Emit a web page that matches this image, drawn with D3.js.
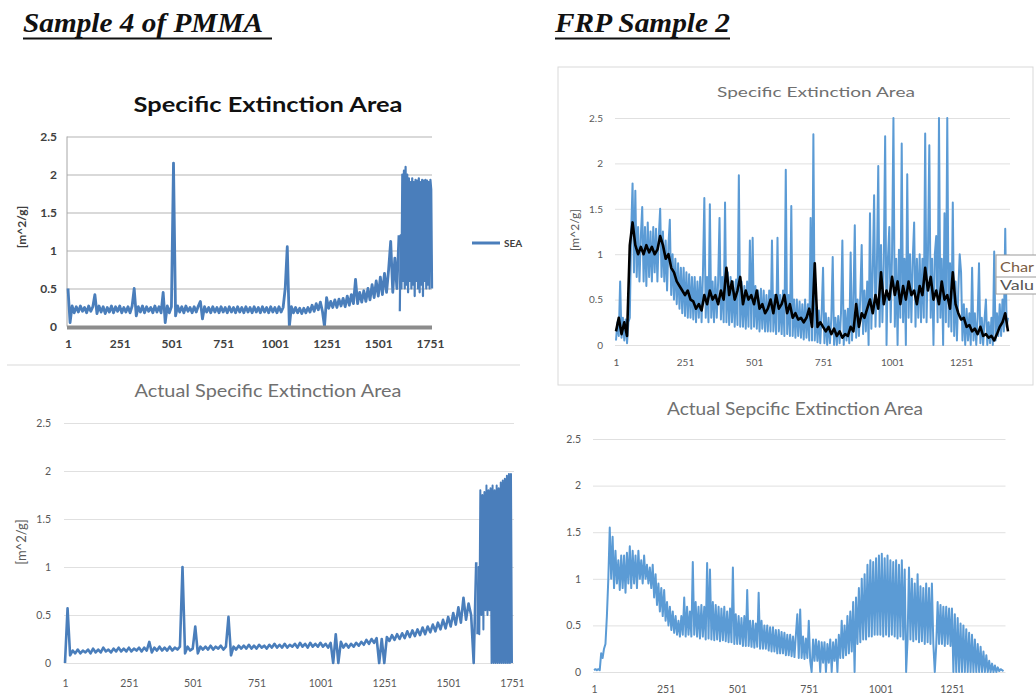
<!DOCTYPE html>
<html>
<head>
<meta charset="utf-8">
<script src="https://cdn.jsdelivr.net/npm/d3@7"></script>
<style>
  body { margin: 0; background: #fff; }
  svg { display: block; font-family: Lato, "Open Sans", sans-serif; }
</style>
</head>
<body>
<svg id="chart" width="1036" height="700"></svg>
<script>
const yTicks = [0, 0.5, 1, 1.5, 2, 2.5];
const pmmaTicks = [1, 251, 501, 751, 1001, 1251, 1501, 1751];
const frpTicks = [1, 251, 501, 751, 1001, 1251];

// Sample 4 of PMMA - SEA, readings 1..1601 every 10
const pmmaSea = [
  0.5, 0.05, 0.27, 0.18, 0.26, 0.19, 0.27, 0.2, 0.25, 0.18,
  0.27, 0.2, 0.26, 0.42, 0.17, 0.27, 0.19, 0.26, 0.17, 0.25,
  0.19, 0.27, 0.18, 0.26, 0.2, 0.27, 0.18, 0.25, 0.19, 0.26,
  0.18, 0.27, 0.5, 0.14, 0.26, 0.19, 0.27, 0.18, 0.26, 0.2,
  0.25, 0.18, 0.27, 0.19, 0.26, 0.18, 0.45, 0.05, 0.27, 0.18,
  0.26, 2.15, 0.14, 0.27, 0.19, 0.26, 0.18, 0.27, 0.2, 0.25,
  0.18, 0.26, 0.19, 0.27, 0.33, 0.1, 0.26, 0.19, 0.25, 0.18,
  0.26, 0.19, 0.25, 0.18, 0.26, 0.19, 0.25, 0.18, 0.26, 0.19,
  0.25, 0.18, 0.26, 0.19, 0.25, 0.18, 0.26, 0.19, 0.25, 0.18,
  0.26, 0.19, 0.25, 0.18, 0.26, 0.19, 0.25, 0.18, 0.26, 0.19,
  0.25, 0.18, 0.26, 0.19, 0.25, 0.5, 1.05, 0.0, 0.26, 0.18,
  0.25, 0.18, 0.24, 0.17, 0.24, 0.18, 0.25, 0.19, 0.28, 0.2,
  0.3, 0.22, 0.32, 0.2, 0.0, 0.38, 0.24, 0.33, 0.25, 0.35,
  0.25, 0.36, 0.27, 0.37, 0.26, 0.4, 0.28, 0.42, 0.3, 0.62,
  0.3, 0.45, 0.32, 0.47, 0.33, 0.5, 0.35, 0.55, 0.38, 0.6,
  0.4, 0.65, 0.42, 0.7, 0.45, 0.75, 1.12, 0.45, 0.9, 0.5,
  1.2
];
// dense end of the run, readings 1605..1761 every 4
const pmmaSeaTail = [
  0.2, 1.2, 0.5, 2.0, 0.6, 2.05, 0.5, 2.1, 0.55, 2.0,
  0.45, 1.95, 0.6, 1.9, 0.5, 1.95, 0.55, 1.9, 0.4, 1.93,
  0.6, 1.92, 0.5, 1.95, 0.45, 1.9, 0.55, 1.93, 0.4, 1.92,
  0.6, 1.93, 0.5, 1.92, 0.55, 1.9, 0.5, 1.93, 1.8, 0.5
];

// Sample 4 of PMMA - Actual SEA, readings 1..1611 every 10
const pmmaActual = [
  0.0, 0.57, 0.08, 0.13, 0.1, 0.14, 0.1, 0.13, 0.11, 0.14,
  0.1, 0.15, 0.11, 0.14, 0.11, 0.16, 0.12, 0.14, 0.11, 0.15,
  0.12, 0.16, 0.12, 0.15, 0.12, 0.16, 0.12, 0.15, 0.13, 0.16,
  0.12, 0.16, 0.13, 0.22, 0.11, 0.16, 0.13, 0.17, 0.13, 0.16,
  0.13, 0.17, 0.13, 0.16, 0.14, 0.17, 1.0, 0.1, 0.17, 0.13,
  0.15, 0.38, 0.1, 0.17, 0.14, 0.17, 0.14, 0.18, 0.14, 0.17,
  0.15, 0.18, 0.14, 0.17, 0.48, 0.08, 0.17, 0.14, 0.18, 0.15,
  0.18, 0.15, 0.19, 0.15, 0.18, 0.15, 0.19, 0.16, 0.18, 0.15,
  0.19, 0.16, 0.2, 0.16, 0.19, 0.16, 0.2, 0.16, 0.19, 0.17,
  0.2, 0.16, 0.21, 0.17, 0.2, 0.16, 0.21, 0.17, 0.2, 0.17,
  0.21, 0.17, 0.2, 0.16, 0.21, 0.0, 0.3, 0.0, 0.22, 0.16,
  0.2, 0.16, 0.2, 0.17, 0.21, 0.18, 0.22, 0.19, 0.24, 0.2,
  0.25, 0.21, 0.26, 0.0, 0.25, 0.0, 0.27, 0.23, 0.29, 0.24,
  0.3, 0.25, 0.31, 0.26, 0.33, 0.27, 0.34, 0.28, 0.35, 0.29,
  0.37, 0.3, 0.38, 0.32, 0.4, 0.33, 0.42, 0.35, 0.45, 0.36,
  0.48, 0.38, 0.52, 0.4, 0.58, 0.42, 0.68, 0.45, 0.62, 0.5,
  0.0, 1.05
];
// readings 1615..1751 every 4
const pmmaActualTail = [
  0.3, 1.0, 0.3, 1.8, 0.5, 1.75, 0.35, 1.78, 0.55, 1.85,
  0.5, 1.8, 0.55, 1.82, 0.0, 1.85, 0.0, 1.8, 0.0, 1.85,
  0.0, 1.82, 0.0, 1.88, 0.0, 1.9, 0.0, 1.92, 0.0, 1.95,
  0.0, 1.97, 0.0, 1.97, 0.0
];

// FRP Sample 2 - SEA, readings 1..1421 every 5
const frpSea = [
  0.05, 0.25, 0.1, 0.7, 0.08, 0.3, 0.05, 0.28, 0.02, 0.25, 0.3, 1.25, 1.78, 0.8, 1.7, 0.75, 1.3, 0.7, 1.2, 1.52,
  0.7, 1.3, 0.65, 1.35, 0.75, 1.25, 0.7, 1.3, 0.8, 1.28, 0.7, 1.2, 1.5, 0.75, 1.25, 0.7, 1.15, 0.6, 1.1, 1.38,
  0.55, 1.0, 0.5, 0.95, 0.45, 0.9, 0.4, 0.85, 0.35, 0.85, 0.32, 0.8, 0.3, 0.78, 0.3, 0.75, 0.28, 0.75, 0.25, 0.7,
  0.3, 0.75, 0.25, 0.8, 1.62, 0.3, 0.75, 0.25, 1.55, 0.3, 0.7, 0.25, 0.75, 0.3, 0.7, 1.4, 0.28, 0.75, 0.25, 1.57,
  0.25, 0.8, 0.22, 0.75, 0.25, 0.7, 0.2, 0.72, 0.22, 1.87, 0.2, 0.7, 0.2, 0.65, 0.18, 0.7, 0.2, 1.15, 0.18, 1.18,
  0.2, 0.65, 0.18, 0.6, 0.15, 0.62, 0.18, 0.6, 0.15, 0.55, 0.15, 0.6, 0.15, 1.15, 0.15, 0.55, 0.12, 1.18, 0.15, 0.55,
  0.12, 0.6, 0.1, 1.93, 0.12, 0.55, 0.1, 1.53, 0.1, 0.5, 0.08, 0.5, 0.1, 0.48, 0.08, 0.45, 0.06, 0.5, 0.08, 0.45,
  0.05, 1.4, 0.05, 2.32, 0.05, 0.4, 0.03, 0.38, 0.02, 0.35, 0.85, 0.02, 0.35, 0.0, 0.3, 0.02, 0.3, 0.97, 0.0, 0.3,
  0.0, 0.32, 0.02, 0.35, 1.15, 0.0, 0.38, 0.05, 0.4, 0.02, 1.02, 0.05, 0.45, 1.32, 0.08, 0.5, 0.1, 0.55, 1.1, 0.12,
  0.6, 0.15, 0.7, 0.0, 1.45, 0.18, 0.8, 1.65, 0.2, 0.85, 1.97, 0.2, 1.1, 0.25, 0.9, 2.3, 0.0, 0.95, 1.3, 0.25,
  1.0, 2.5, 0.2, 0.95, 0.0, 1.05, 0.3, 2.22, 0.25, 0.95, 0.0, 1.88, 0.3, 1.0, 0.25, 0.95, 1.35, 0.2, 0.95, 0.3,
  1.0, 0.25, 0.95, 0.3, 2.33, 0.25, 1.0, 2.2, 0.3, 0.95, 0.0, 1.0, 1.2, 0.25, 2.5, 0.3, 0.95, 0.0, 1.45, 0.25,
  2.5, 0.2, 0.9, 0.15, 1.57, 0.1, 0.7, 0.05, 0.6, 1.0, 0.8, 0.05, 0.45, 0.0, 0.4, 0.05, 0.35, 0.0, 0.85, 0.05,
  0.35, 0.0, 0.3, 0.9, 0.02, 0.3, 0.0, 0.28, 0.5, 0.0, 0.25, 0.02, 0.3, 0.0, 1.03, 0.05, 0.35, 0.1, 0.45, 0.1,
  0.5, 0.15, 1.28, 0.2, 0.3
];
// FRP Sample 2 - smoothed trace (black), readings 1..1421 every 10
const frpSmooth = [
  0.15, 0.3, 0.12, 0.25, 0.1, 1.1, 1.35, 1.1, 1.0, 1.08,
  1.0, 1.1, 1.02, 1.08, 1.0, 1.05, 1.2, 1.1, 0.95, 1.0,
  0.85, 0.8, 0.7, 0.65, 0.6, 0.55, 0.6, 0.5, 0.48, 0.4,
  0.45, 0.38, 0.55, 0.45, 0.6, 0.5, 0.55, 0.45, 0.6, 0.5,
  0.85, 0.55, 0.7, 0.5, 0.6, 0.75, 0.45, 0.6, 0.5, 0.55,
  0.45, 0.6, 0.4, 0.45, 0.35, 0.4, 0.5, 0.35, 0.55, 0.4,
  0.45, 0.55, 0.35, 0.45, 0.3, 0.35, 0.28, 0.3, 0.25, 0.3,
  0.4, 0.2, 0.9, 0.2, 0.25, 0.2, 0.15, 0.2, 0.12, 0.18,
  0.1, 0.15, 0.08, 0.12, 0.1, 0.2, 0.15, 0.45, 0.2, 0.35,
  0.3, 0.4, 0.5, 0.35, 0.55, 0.4, 0.8, 0.45, 0.6, 0.5,
  0.75, 0.55, 0.7, 0.45, 0.65, 0.5, 0.7, 0.55, 0.6, 0.45,
  0.65, 0.55, 0.85, 0.6, 0.75, 0.5, 0.6, 0.45, 0.7, 0.5,
  0.55, 0.4, 0.8, 0.45, 0.35, 0.28, 0.3, 0.2, 0.22, 0.15,
  0.18, 0.12, 0.2, 0.1, 0.12, 0.08, 0.1, 0.05, 0.12, 0.2,
  0.25, 0.35, 0.15
];

// FRP Sample 2 - Actual SEA, readings 1..1431 every 5
const frpActual = [
  0.02, 0.03, 0.02, 0.03, 0.02, 0.2, 0.15, 0.25, 0.3, 0.6, 1.0, 1.55, 1.0, 1.45, 0.9, 1.3, 0.95, 1.2, 0.88, 1.25,
  0.9, 1.25, 0.85, 1.28, 0.95, 1.35, 0.9, 1.3, 0.95, 1.25, 0.9, 1.3, 1.0, 1.2, 0.95, 1.25, 1.0, 1.15, 0.95, 1.12,
  0.9, 1.15, 0.8, 1.05, 0.72, 0.95, 0.65, 0.9, 0.6, 0.88, 0.55, 0.75, 0.5, 0.7, 0.45, 0.65, 0.42, 0.6, 0.4, 0.55,
  0.38, 0.6, 0.4, 0.8, 0.38, 0.7, 0.4, 0.65, 0.38, 1.18, 0.4, 0.75, 0.38, 0.7, 0.36, 0.72, 0.38, 0.7, 0.35, 1.17,
  0.36, 1.1, 0.35, 0.75, 0.34, 0.72, 0.35, 0.7, 0.33, 0.68, 0.34, 0.7, 0.33, 0.65, 0.32, 0.68, 0.32, 1.12, 0.3, 0.62,
  0.3, 0.6, 0.3, 0.58, 0.28, 0.6, 0.28, 0.88, 0.28, 0.55, 0.27, 0.55, 0.26, 0.52, 0.27, 0.85, 0.25, 0.55, 0.25, 0.5,
  0.25, 0.5, 0.23, 0.48, 0.22, 0.48, 0.22, 0.45, 0.2, 0.45, 0.2, 0.43, 0.2, 0.42, 0.18, 0.4, 0.18, 0.4, 0.17, 0.38,
  0.16, 0.4, 0.62, 0.15, 0.67, 0.15, 0.38, 0.14, 0.36, 0.15, 0.55, 0.12, 0.0, 0.35, 0.12, 0.35, 0.12, 0.33, 0.0, 0.32,
  0.1, 0.32, 0.0, 0.3, 0.1, 0.35, 0.0, 0.32, 0.12, 0.35, 0.0, 0.4, 0.15, 0.55, 0.15, 0.5, 0.18, 0.6, 0.2, 0.65,
  0.22, 0.75, 0.0, 0.8, 0.3, 0.9, 0.32, 1.0, 0.35, 1.05, 0.35, 1.15, 0.38, 1.2, 0.38, 1.18, 0.4, 1.22, 0.4, 1.25,
  0.4, 1.27, 0.38, 1.22, 0.4, 1.25, 0.38, 1.2, 0.4, 1.18, 0.38, 1.2, 0.36, 1.15, 0.38, 1.2, 0.35, 1.1, 0.0, 0.35,
  1.12, 0.35, 1.0, 0.33, 0.95, 0.35, 1.05, 0.32, 0.92, 0.33, 0.9, 0.3, 0.95, 0.32, 0.9, 0.3, 0.95, 0.3, 0.0, 0.28,
  0.75, 0.3, 0.72, 0.3, 0.7, 0.28, 0.7, 0.3, 0.68, 0.28, 0.68, 0.0, 0.62, 0.0, 0.58, 0.0, 0.52, 0.0, 0.5, 0.0,
  0.46, 0.0, 0.42, 0.0, 0.4, 0.0, 0.35, 0.0, 0.3, 0.0, 0.27, 0.0, 0.22, 0.0, 0.18, 0.0, 0.12, 0.0, 0.09, 0.0,
  0.07, 0.0, 0.05, 0.01, 0.03, 0.02, 0.01
];

const svg = d3.select("#chart");

// page headers
function header(text, x, y, textW, underlineTo) {
  svg.append("text")
    .attr("x", x).attr("y", y)
    .attr("textLength", textW).attr("lengthAdjust", "spacingAndGlyphs")
    .style("font-family", "'Liberation Serif', serif")
    .style("font-style", "italic")
    .style("font-weight", "bold")
    .style("font-size", "28px")
    .attr("fill", "#111")
    .text(text);
  svg.append("line")
    .attr("x1", x).attr("x2", underlineTo)
    .attr("y1", y + 6.5).attr("y2", y + 6.5)
    .attr("stroke", "#111").attr("stroke-width", 2);
}
header("Sample 4 of PMMA", 23, 32, 240, 272);
header("FRP Sample 2", 555, 32, 175, 730);

// chart frames
svg.append("rect")
  .attr("x", 558).attr("y", 67).attr("width", 475).attr("height", 318)
  .attr("fill", "none").attr("stroke", "#d9d9d9");
svg.append("line")
  .attr("x1", 7).attr("x2", 520).attr("y1", 365).attr("y2", 365)
  .attr("stroke", "#d9d9d9");

function panel(o) {
  const g = svg.append("g");
  const x = d3.scaleLinear().domain(o.xDomain).range(o.xRange);
  const y = d3.scaleLinear().domain([0, 2.5]).range(o.yRange);
  const w = o.xRange[1] - o.xRange[0];
  const weight = o.bold ? "bold" : "normal";

  // gridlines + y labels
  const ya = g.append("g")
    .attr("transform", `translate(${o.xRange[0] - 1},0)`)
    .call(d3.axisLeft(y).tickValues(yTicks).tickSize(-(w + 3)).tickPadding(o.yPad).tickFormat(d => String(d)));
  ya.select(".domain").remove();
  ya.selectAll(".tick line").attr("stroke", o.gridColor);
  ya.selectAll(".tick text")
    .attr("fill", o.tickColor)
    .style("font-size", o.tickSize + "px")
    .style("font-weight", weight)
    .style("font-family", "Lato, sans-serif");

  if (o.bold) {
    // older Excel style: vertical axis line
    g.append("line")
      .attr("x1", o.xRange[0] - 1).attr("x2", o.xRange[0] - 1)
      .attr("y1", y(2.5)).attr("y2", y(0))
      .attr("stroke", "#a6a6a6");
  }

  // x axis labels
  const xa = g.append("g")
    .attr("transform", `translate(0,${y(0)})`)
    .call(d3.axisBottom(x).tickValues(o.xTicks).tickSize(0).tickPadding(o.xPad).tickFormat(d => String(d)));
  xa.select(".domain").remove();
  xa.selectAll(".tick text")
    .attr("fill", o.tickColor)
    .style("font-size", o.tickSize + "px")
    .style("font-weight", weight)
    .style("font-family", "Lato, sans-serif");

  // series
  o.series.forEach(s => {
    const line = d3.line()
      .x((d, i) => x(s.start + i * s.step))
      .y(d => y(Math.min(d, 2.5)));
    g.append("path")
      .datum(s.values)
      .attr("d", line)
      .attr("fill", "none")
      .attr("stroke", s.color)
      .attr("stroke-width", s.width)
      .attr("stroke-linejoin", "round");
  });

  if (o.bold) {
    g.append("line")
      .attr("x1", o.xRange[0] - 1).attr("x2", o.xRange[1] + 2)
      .attr("y1", y(0) + 1).attr("y2", y(0) + 1)
      .attr("stroke", "#8c8c8c").attr("stroke-width", 4);
  }

  // title
  g.append("text")
    .attr("x", o.titleX).attr("y", o.titleY)
    .attr("text-anchor", "middle")
    .attr("textLength", o.titleW).attr("lengthAdjust", "spacingAndGlyphs")
    .attr("fill", o.titleColor)
    .style("font-size", o.titleSize + "px")
    .style("font-weight", weight)
    .text(o.title);

  // y axis title
  if (o.yTitle) {
    g.append("text")
      .attr("transform", `translate(${o.yTitleX},${o.yTitleY}) rotate(-90)`)
      .attr("text-anchor", "middle")
      .attr("fill", o.tickColor)
      .style("font-size", o.yTitleSize + "px")
      .style("font-weight", weight)
      .text(o.yTitle);
  }
}

// top-left
panel({
  xDomain: [1, 1751], xRange: [68, 430], yRange: [326.5, 136.5],
  xTicks: pmmaTicks, gridColor: "#b3b3b3", tickColor: "#404040", tickSize: 12,
  yPad: 10, xPad: 13, bold: true,
  title: "Specific Extinction Area", titleX: 268, titleY: 112, titleW: 269, titleSize: 20, titleColor: "#111",
  yTitle: "[m^2/g]", yTitleX: 26, yTitleY: 227, yTitleSize: 12,
  series: [
    {values: pmmaSea, start: 1, step: 10, color: "#4a7ebb", width: 2.8},
    {values: pmmaSeaTail, start: 1605, step: 4, color: "#4a7ebb", width: 2.2}
  ]
});

// legend for top-left
svg.append("line")
  .attr("x1", 472).attr("x2", 500).attr("y1", 243).attr("y2", 243)
  .attr("stroke", "#4a7ebb").attr("stroke-width", 3);
svg.append("text")
  .attr("x", 504).attr("y", 247)
  .attr("fill", "#404040")
  .style("font-size", "10px").style("font-weight", "bold")
  .text("SEA");

// top-right
panel({
  xDomain: [1, 1421], xRange: [616, 1008], yRange: [345, 118],
  xTicks: frpTicks, gridColor: "#e0e0e0", tickColor: "#595959", tickSize: 10,
  yPad: 12, xPad: 14, bold: false,
  title: "Specific Extinction Area", titleX: 816, titleY: 97, titleW: 198, titleSize: 14, titleColor: "#707070",
  yTitle: "[m^2/g]", yTitleX: 579, yTitleY: 230, yTitleSize: 12,
  series: [
    {values: frpSea, start: 1, step: 5, color: "#5b9bd5", width: 2},
    {values: frpSmooth, start: 1, step: 10, color: "#000", width: 2.6}
  ]
});

// Excel hover box at the right edge
svg.append("rect")
  .attr("x", 996).attr("y", 255).attr("width", 50).attr("height", 39)
  .attr("fill", "#fff").attr("stroke", "#9a9a9a");
svg.append("line")
  .attr("x1", 996).attr("x2", 1036).attr("y1", 277).attr("y2", 277)
  .attr("stroke", "#9a9a9a");
svg.append("text").attr("x", 1000).attr("y", 272)
  .attr("textLength", 34).attr("lengthAdjust", "spacingAndGlyphs")
  .attr("fill", "#7a5c45").style("font-size", "14px").text("Char");
svg.append("text").attr("x", 1000).attr("y", 290)
  .attr("textLength", 34).attr("lengthAdjust", "spacingAndGlyphs")
  .attr("fill", "#555").style("font-size", "14px").text("Valu");

// bottom-left
panel({
  xDomain: [1, 1751], xRange: [65, 512], yRange: [663, 423],
  xTicks: pmmaTicks, gridColor: "#e0e0e0", tickColor: "#595959", tickSize: 10.5,
  yPad: 13, xPad: 17, bold: false,
  title: "Actual Specific Extinction Area", titleX: 268, titleY: 397, titleW: 267, titleSize: 16.5, titleColor: "#707070",
  yTitle: "[m^2/g]", yTitleX: 26, yTitleY: 542, yTitleSize: 13,
  series: [
    {values: pmmaActual, start: 1, step: 10, color: "#4a7ebb", width: 2.6},
    {values: pmmaActualTail, start: 1615, step: 4, color: "#4a7ebb", width: 2}
  ]
});

// bottom-right
panel({
  xDomain: [1, 1431], xRange: [594, 1003.5], yRange: [672, 439],
  xTicks: frpTicks, gridColor: "#e0e0e0", tickColor: "#595959", tickSize: 10.5,
  yPad: 12, xPad: 14, bold: false,
  title: "Actual Sepcific Extinction Area", titleX: 795, titleY: 415, titleW: 256, titleSize: 16.5, titleColor: "#707070",
  series: [{values: frpActual, start: 1, step: 5, color: "#5b9bd5", width: 2}]
});
</script>
</body>
</html>
